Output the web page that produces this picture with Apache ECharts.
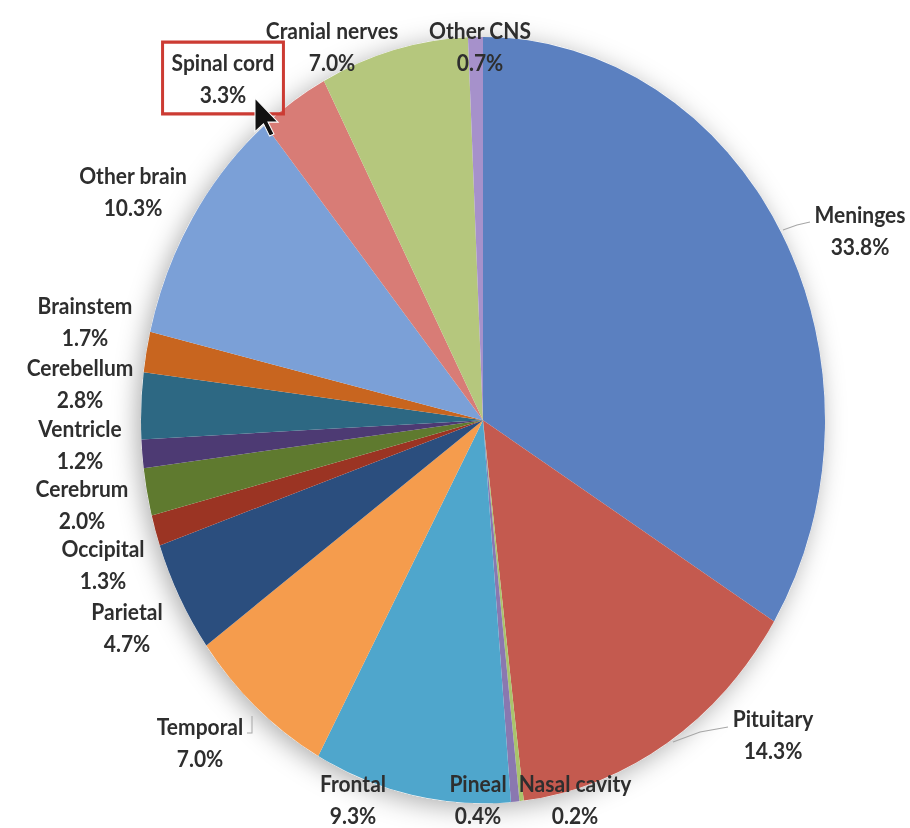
<!DOCTYPE html>
<html><head><meta charset="utf-8">
<script src="https://cdn.jsdelivr.net/npm/echarts@6/dist/echarts.min.js"></script>
<style>
html,body{margin:0;padding:0;background:#fff;overflow:hidden}
#wrap{width:910px;height:828px;overflow:hidden;position:relative;background:#fff}
#chart{width:910px;height:739px;transform-origin:0 0;transform:scaleY(1.1204);}
</style></head>
<body><div id="wrap"><div id="chart"></div></div>
<script>
// ---- data ----
const categories = ['Meninges','Pituitary','Nasal cavity','Pineal','Frontal','Temporal','Parietal','Occipital','Cerebrum','Ventricle','Cerebellum','Brainstem','Other brain','Spinal cord','Cranial nerves','Other CNS'];
const values = [33.8, 14.3, 0.2, 0.4, 9.3, 7.0, 4.7, 1.3, 2.0, 1.2, 2.8, 1.7, 10.3, 3.3, 7.0, 0.7];

// ---- styles / layout ----
const colors = ['#5B80C0','#C45A4F','#A9C46C','#8A78B0','#4FA6CC','#F59C4D','#2B4E7E','#9B3423','#5F7A2F','#4D3A73','#2D6883','#C8651F','#7BA0D7','#D87C76','#B5C77D','#A691CB'];
const S = 828 / 739;            // vertical stretch of the reference picture
// label block centres (reference pixel coordinates)
const labelAnchors = [[860,230],[773,734],[575,799],[478,799],[353,799],[200,742],[127,627],[103,564],[82,504],[80,444],[80,383],[85,321],[133,191],[223,78],[332,46],[480,46]];
const leaderLines = {
  0: [[783,230],[797,225],[810,222]],
  1: [[673,742],[700,732],[728,727]],
  5: [[252,716],[252,733],[247,733]]
};
const boxed = 'Spinal cord';

const chart = echarts.init(document.getElementById('chart'), null, {renderer:'svg'});
const total = values.reduce((a,b)=>a+b,0);

const data = categories.map((c,i)=>{
  const item = {name:c, value:values[i], itemStyle:{color:colors[i]}};
  if (leaderLines[i]) item.labelLine = {show:true, lineStyle:{color:'#A6A6A6', width:1}};
  if (c === boxed) item.label = {borderColor:'#CC3B33', borderWidth:3, padding:[6,9,2,9]};
  return item;
});

chart.setOption({
  backgroundColor:'#fff',
  animation:false,
  series:[
    {
      type:'pie', silent:true, z:1,
      center:[483,375], radius:342,
      label:{show:false}, labelLine:{show:false},
      itemStyle:{color:'#fff', borderWidth:0, shadowBlur:24, shadowColor:'rgba(0,0,0,0.32)', shadowOffsetX:-4, shadowOffsetY:4},
      data:[{name:'all', value:total}]
    },
    {
      type:'pie', z:2,
      center:[483,375], radius:342,
      startAngle:90, clockwise:true, minAngle:0,
      avoidLabelOverlap:false,
      itemStyle:{borderWidth:0},
      label:{
        show:true, position:'outside',
        fontFamily:'Lato', fontWeight:'bold', fontSize:21, lineHeight:28, color:'#2E2E2E',
        formatter: p => p.name + '\n' + p.percent.toFixed(1) + '%'
      },
      labelLine:{show:false},
      labelLayout: p => {
        const a = labelAnchors[p.dataIndex];
        const res = {x:a[0], y:a[1]/S, align:'center', verticalAlign:'middle'};
        const ln = leaderLines[p.dataIndex];
        if (ln) res.labelLinePoints = ln.map(q=>[q[0], q[1]/S]);
        return res;
      },
      data:data
    }
  ],
  graphic:[{
    type:'polygon', z:100,
    shape:{points:[[255,87.5],[255,87.5+30],[255+8.5,87.5+23],[255+14.5,87.5+34],[255+19,87.5+32],[255+13,87.5+21.5],[255+23,87.5+21.5]]},
    style:{fill:'#111', stroke:'#fff', lineWidth:1}
  }]
});
</script>
</body></html>
